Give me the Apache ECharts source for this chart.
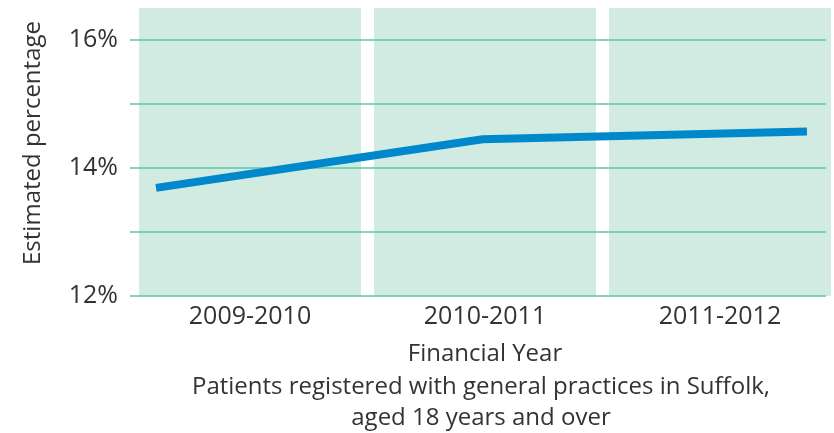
<!DOCTYPE html>
<html>
<head>
<meta charset="utf-8">
<script src="https://cdn.jsdelivr.net/npm/echarts@6/dist/echarts.min.js"></script>
<style>
  html, body { margin: 0; padding: 0; background: #fff; }
  #chart { width: 834px; height: 433px; }
</style>
</head>
<body>
<div id="chart"></div>
<script>
// categories and values
const categories = ['2009-2010', '2010-2011', '2011-2012'];
// line point positions along the year axis (0..3) and estimated percentages
const lineX = [0.1, 1.49, 2.87];
const lineValues = [13.69, 14.45, 14.57];
const yTickLabels = { 12: '12%', 14: '14%', 16: '16%' };

const textColor = '#333333';
const font = 'Open Sans';

const chart = echarts.init(document.getElementById('chart'));

const option = {
  animation: false,
  textStyle: { fontFamily: font },
  grid: [
    // gridlines and y labels
    { left: 130, width: 696, top: 40, height: 256, outerBoundsMode: 'none' },
    // bands, category labels, line
    { left: 132.5, width: 705, top: 8, height: 288, outerBoundsMode: 'none' }
  ],
  xAxis: [
    { gridIndex: 0, type: 'value', show: false },
    {
      gridIndex: 1,
      type: 'category',
      data: categories,
      axisLine: { show: false },
      axisTick: { show: false },
      axisLabel: { color: textColor, fontSize: 25, margin: 8, fontFamily: font },
      name: 'Financial Year',
      nameLocation: 'middle',
      nameGap: 46,
      nameTextStyle: { color: textColor, fontSize: 24, fontFamily: font }
    },
    { gridIndex: 1, type: 'value', min: 0, max: 3, show: false }
  ],
  yAxis: [
    {
      gridIndex: 0,
      type: 'value',
      min: 12,
      max: 16,
      interval: 1,
      axisLine: { show: false },
      axisTick: { show: false },
      axisLabel: {
        color: textColor,
        fontSize: 25,
        margin: 12,
        fontFamily: font,
        formatter: (v) => yTickLabels[v] || ''
      },
      splitLine: { show: true, lineStyle: { color: '#5ec4ac', width: 1.5 } }
    },
    { gridIndex: 1, type: 'value', min: 12, max: 16.5, show: false }
  ],
  graphic: [
    {
      type: 'text',
      x: 33,
      y: 143,
      rotation: Math.PI / 2,
      style: {
        text: 'Estimated percentage',
        fill: textColor,
        font: '24px "Open Sans"',
        textAlign: 'center',
        textVerticalAlign: 'middle'
      }
    },
    {
      type: 'text',
      x: 481,
      y: 387,
      style: {
        text: 'Patients registered with general practices in Suffolk,',
        fill: textColor,
        font: '24px "Open Sans"',
        textAlign: 'center',
        textVerticalAlign: 'middle'
      }
    },
    {
      type: 'text',
      x: 481,
      y: 418,
      style: {
        text: 'aged 18 years and over',
        fill: textColor,
        font: '24px "Open Sans"',
        textAlign: 'center',
        textVerticalAlign: 'middle'
      }
    }
  ],
  series: [
    {
      type: 'bar',
      xAxisIndex: 1,
      yAxisIndex: 1,
      z: -1,
      barCategoryGap: '5.53%',
      itemStyle: { color: '#d1ebe3' },
      silent: true,
      data: categories.map(() => 16.5)
    },
    {
      type: 'line',
      xAxisIndex: 2,
      yAxisIndex: 1,
      symbol: 'none',
      lineStyle: { color: '#0088cc', width: 8, cap: 'butt' },
      data: lineX.map((x, i) => [x, lineValues[i]])
    }
  ]
};

chart.setOption(option);
</script>
</body>
</html>
